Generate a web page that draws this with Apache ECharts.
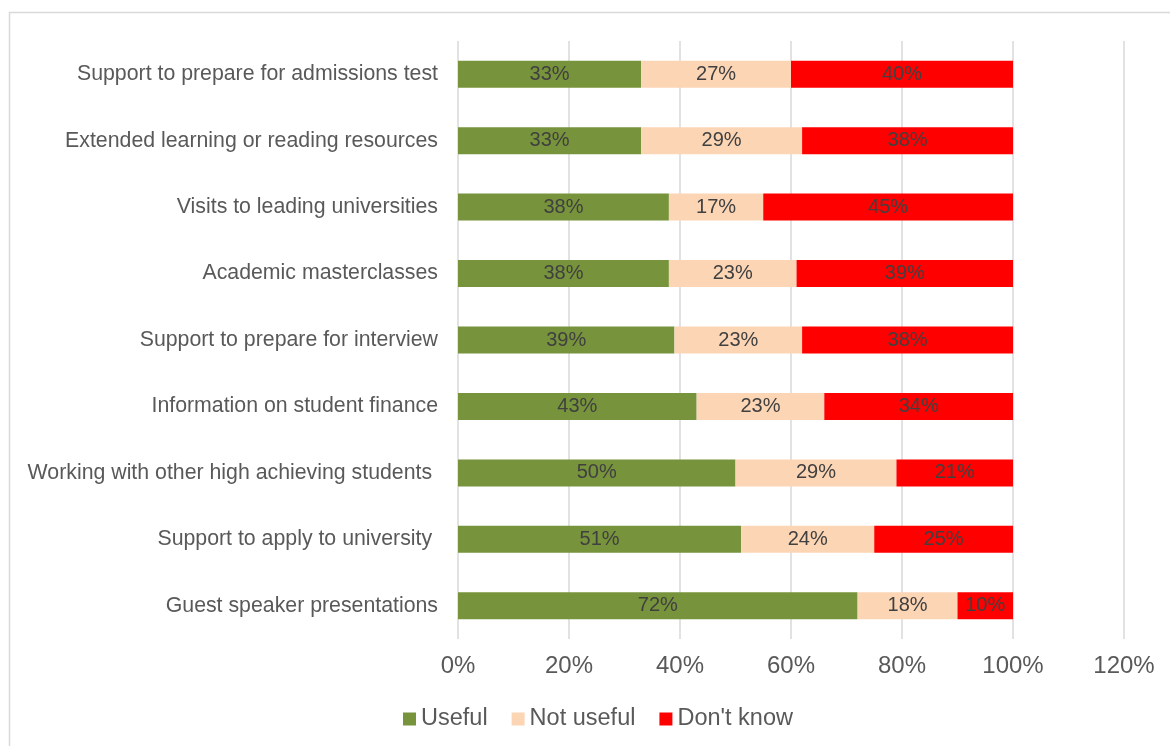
<!DOCTYPE html>
<html>
<head>
<meta charset="utf-8">
<script src="https://cdn.jsdelivr.net/npm/echarts@6/dist/echarts.min.js"></script>
<style>html,body{margin:0;padding:0;background:#fff;}#c{width:1170px;height:746px;}</style>
</head>
<body>
<div id="c"></div>
<script>
var categories = [
  'Guest speaker presentations',
  'Support to apply to university ',
  'Working with other high achieving students ',
  'Information on student finance',
  'Support to prepare for interview',
  'Academic masterclasses',
  'Visits to leading universities',
  'Extended learning or reading resources',
  'Support to prepare for admissions test'
];
var useful    = [72, 51, 50, 43, 39, 38, 38, 33, 33];
var notUseful = [18, 24, 29, 23, 23, 23, 17, 29, 27];
var dontKnow  = [10, 25, 21, 34, 38, 39, 45, 38, 40];
var xTicks = [0, 20, 40, 60, 80, 100, 120];

var chart = echarts.init(document.getElementById('c'));
var font = 'Liberation Sans, Arial, sans-serif';
function mk(name, data, color) {
  return {
    name: name, type: 'bar', stack: 'all', data: data, barWidth: 27,
    itemStyle: { color: color },
    label: { show: true, position: 'inside', formatter: '{c}%', color: '#404040', fontSize: 20, fontFamily: font }
  };
}
chart.setOption({
  animation: false,
  graphic: [{
    type: 'rect', shape: { x: 9.5, y: 12.5, width: 1200, height: 800 },
    style: { fill: 'none', stroke: '#d9d9d9', lineWidth: 1.5 }, z: -1
  }],
  grid: { left: 458, right: 46, top: 41, bottom: 107, containLabel: false },
  legend: {
    left: 398, top: 702, itemWidth: 13, itemHeight: 13, itemGap: 24,
    icon: 'rect',
    textStyle: { fontSize: 23.5, color: '#595959', fontFamily: font },
    data: ['Useful', 'Not useful', "Don't know"]
  },
  xAxis: {
    type: 'value', min: xTicks[0], max: xTicks[xTicks.length - 1], interval: 20,
    axisLine: { show: false }, axisTick: { show: false },
    splitLine: { lineStyle: { color: '#d9d9d9', width: 1.5 } },
    axisLabel: { formatter: '{value}%', fontSize: 24, color: '#595959', margin: 15, fontFamily: font }
  },
  yAxis: {
    type: 'category', data: categories,
    axisLine: { show: false }, axisTick: { show: false },
    axisLabel: { fontSize: 21.3, color: '#595959', margin: 20, fontFamily: font }
  },
  series: [
    mk('Useful', useful, '#77933C'),
    mk('Not useful', notUseful, '#FCD5B5'),
    mk("Don't know", dontKnow, '#FF0000')
  ]
});
</script>
</body>
</html>
